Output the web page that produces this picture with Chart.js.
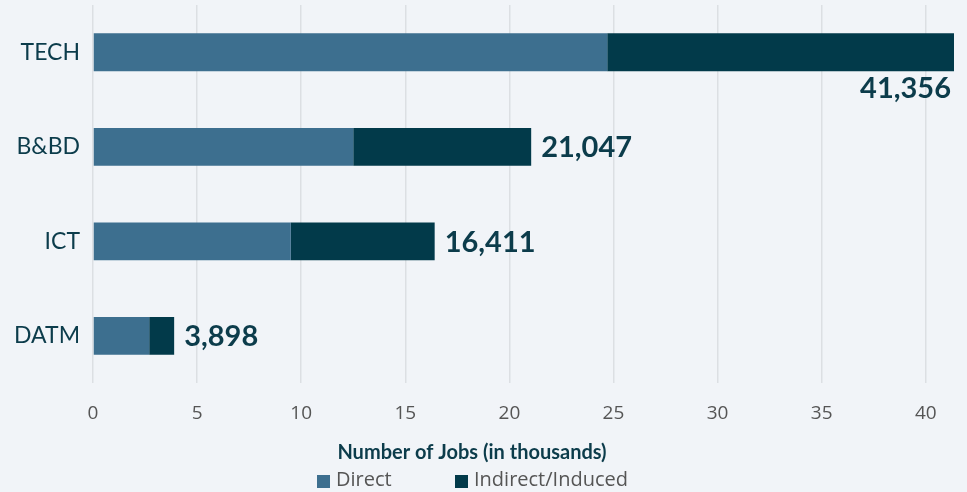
<!DOCTYPE html>
<html>
<head>
<meta charset="utf-8">
<script src="https://cdn.jsdelivr.net/npm/chart.js@4/dist/chart.umd.min.js"></script>
<style>
  html, body { margin: 0; padding: 0; background: #f1f4f8; }
  #wrap { width: 967px; height: 492px; }
</style>
</head>
<body>
<div id="wrap"><canvas id="jobsChart"></canvas></div>
<script>
// values in thousands of jobs
const categories = ['TECH', 'B&BD', 'ICT', 'DATM'];
const directJobs = [24.7, 12.5, 9.5, 2.7];
const indirectJobs = [16.656, 8.547, 6.911, 1.198];
const totalJobs = [41356, 21047, 16411, 3898];
const xTicks = [0, 5, 10, 15, 20, 25, 30, 35, 40];
const seriesNames = ['Direct', 'Indirect/Induced'];
const seriesColors = ['#3d6f8f', '#023a4a'];

const darkText = '#0c3c4b';

// total label at the end of each stacked bar
const totalLabels = {
  id: 'totalLabels',
  afterDatasetsDraw(chart) {
    const { ctx, chartArea } = chart;
    const meta = chart.getDatasetMeta(1);
    ctx.save();
    ctx.font = '700 29px Lato';
    ctx.fillStyle = darkText;
    ctx.textBaseline = 'middle';
    meta.data.forEach((bar, i) => {
      const text = totalJobs[i].toLocaleString('en-US');
      const w = ctx.measureText(text).width;
      if (bar.x + 10 + w > chartArea.right) {
        // not enough room: put it under the bar, right aligned
        ctx.textAlign = 'right';
        ctx.fillText(text, bar.x - 3, bar.y + bar.height / 2 + 17);
      } else {
        ctx.textAlign = 'left';
        ctx.fillText(text, bar.x + 10, bar.y + 1);
      }
    });
    ctx.restore();
  }
};

// axis title + legend drawn under the axis
const bottomLegend = {
  id: 'bottomLegend',
  afterDraw(chart) {
    const ctx = chart.ctx;
    ctx.save();
    ctx.font = '700 20px Lato';
    ctx.fillStyle = darkText;
    ctx.textAlign = 'center';
    ctx.textBaseline = 'middle';
    ctx.fillText('Number of Jobs (in thousands)', 472, 453);

    const itemX = [317, 455];
    ctx.font = '20px "Open Sans"';
    ctx.textAlign = 'left';
    chart.data.datasets.forEach((ds, i) => {
      ctx.fillStyle = ds.backgroundColor;
      ctx.fillRect(itemX[i], 475, 13, 13);
      ctx.fillStyle = '#555';
      ctx.fillText(ds.label, itemX[i] + 19, 480);
    });
    ctx.restore();
  }
};

const bgFill = {
  id: 'bgFill',
  beforeDraw(chart) {
    const ctx = chart.ctx;
    ctx.save();
    ctx.fillStyle = '#f1f4f8';
    ctx.fillRect(0, 0, chart.width, chart.height);
    ctx.restore();
  }
};

new Chart(document.getElementById('jobsChart'), {
  type: 'bar',
  data: {
    labels: categories,
    datasets: [
      { label: seriesNames[0], data: directJobs, backgroundColor: seriesColors[0] },
      { label: seriesNames[1], data: indirectJobs, backgroundColor: seriesColors[1] }
    ]
  },
  options: {
    indexAxis: 'y',
    responsive: true,
    maintainAspectRatio: false,
    animation: false,
    categoryPercentage: 0.8,
    barPercentage: 0.5,
    layout: { padding: { top: 5, right: 13, bottom: 48, left: 0 } },
    plugins: {
      legend: { display: false },
      tooltip: { enabled: false }
    },
    scales: {
      x: {
        stacked: true,
        min: 0,
        max: Math.max(...totalJobs) / 1000,
        afterBuildTicks(scale) {
          scale.ticks = xTicks.map(v => ({ value: v }));
        },
        ticks: {
          includeBounds: false,
          padding: 19,
          color: '#555',
          font: { family: 'Open Sans', size: 19 }
        },
        grid: { color: '#dcdfe3', lineWidth: 1.5, drawTicks: false },
        border: { display: false }
      },
      y: {
        stacked: true,
        afterFit(scale) {
          scale.width = 93;
          scale.paddingTop = 0;
          scale.paddingBottom = 0;
        },
        ticks: {
          padding: 13,
          color: darkText,
          font: { family: 'Lato', size: 23 }
        },
        grid: { display: false, drawTicks: false },
        border: { display: false }
      }
    }
  },
  plugins: [bgFill, totalLabels, bottomLegend]
});
</script>
</body>
</html>
